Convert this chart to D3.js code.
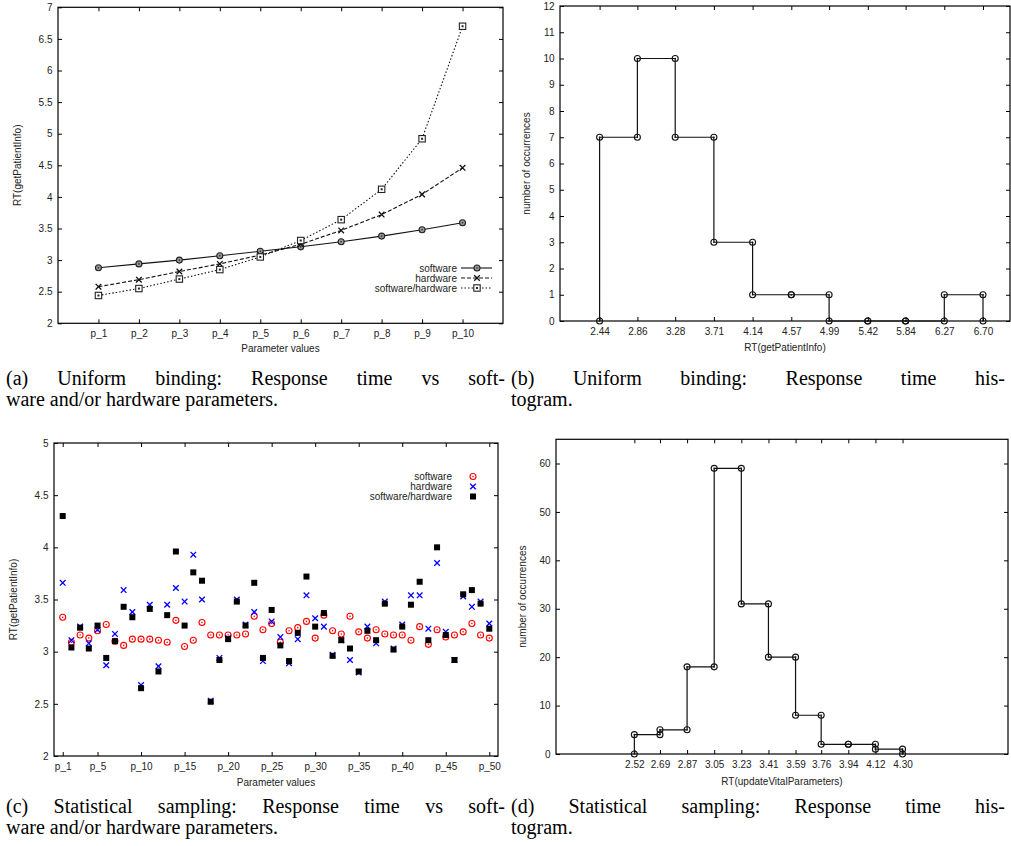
<!DOCTYPE html>
<html lang="en">
<head>
<meta charset="UTF-8" />
<title>Response time: uniform binding and statistical sampling</title>
<script src="https://cdn.jsdelivr.net/npm/d3@7"></script>
<style>
  body { margin: 0; background: #fff; }
  svg text { font-family: "Liberation Sans", Arial, sans-serif; font-size: 10px; fill: #222; }
  svg text.cap { font-family: "Liberation Serif", "Times New Roman", serif; font-size: 20px; fill: #000; }
</style>
</head>
<body>
<svg id="chart" width="1011" height="846"></svg>
<script>
// (a) uniform binding, RT per parameter value
const paramsA = ["p_1", "p_2", "p_3", "p_4", "p_5", "p_6", "p_7", "p_8", "p_9", "p_10"];
const softwareA = [2.88, 2.94, 3.00, 3.07, 3.14, 3.21, 3.29, 3.38, 3.48, 3.59];
const hardwareA = [2.58, 2.69, 2.82, 2.94, 3.08, 3.25, 3.47, 3.72, 4.04, 4.46];
const bothA = [2.44, 2.55, 2.70, 2.85, 3.05, 3.31, 3.64, 4.12, 4.92, 6.70];
const yTicksA = [2, 2.5, 3, 3.5, 4, 4.5, 5, 5.5, 6, 6.5, 7];

// (b) histogram of RT(getPatientInfo)
const binEdgesB = [2.44, 2.86, 3.28, 3.71, 4.14, 4.57, 4.99, 5.42, 5.84, 6.27, 6.70];
const countsB = [7, 10, 7, 3, 1, 1, 0, 0, 0, 1];
const yTicksB = [0, 1, 2, 3, 4, 5, 6, 7, 8, 9, 10, 11, 12];

// (c) statistical sampling, 50 parameter samples
const xLabelsC = ["p_1", "p_5", "p_10", "p_15", "p_20", "p_25", "p_30", "p_35", "p_40", "p_45", "p_50"];
const xTickIdxC = [1, 5, 10, 15, 20, 25, 30, 35, 40, 45, 50];
const softwareC = [3.33, 3.09, 3.16, 3.13, 3.20, 3.26, 3.10, 3.06, 3.12, 3.12,
  3.12, 3.11, 3.09, 3.30, 3.05, 3.11, 3.28, 3.16, 3.16, 3.16,
  3.16, 3.17, 3.34, 3.21, 3.27, 3.09, 3.20, 3.23, 3.29, 3.13,
  3.35, 3.20, 3.17, 3.34, 3.19, 3.13, 3.21, 3.17, 3.16, 3.16,
  3.11, 3.24, 3.07, 3.21, 3.14, 3.16, 3.19, 3.27, 3.16, 3.13];
const hardwareC = [3.66, 3.11, 3.24, 3.08, 3.21, 2.87, 3.17, 3.59, 3.38, 2.68,
  3.45, 2.86, 3.45, 3.61, 3.48, 3.93, 3.50, 2.53, 2.94, 3.13,
  3.50, 3.26, 3.38, 2.91, 3.29, 3.14, 2.89, 3.12, 3.54, 3.32,
  3.24, 2.97, 3.11, 2.92, 2.80, 3.24, 3.08, 3.48, 3.03, 3.26,
  3.54, 3.54, 3.22, 3.85, 3.19, 2.92, 3.53, 3.43, 3.48, 3.27];
const bothC = [4.30, 3.04, 3.23, 3.03, 3.25, 2.94, 3.10, 3.43, 3.33, 2.65,
  3.41, 2.81, 3.35, 3.96, 3.25, 3.76, 3.68, 2.52, 2.92, 3.12,
  3.48, 3.25, 3.66, 2.94, 3.40, 3.06, 2.91, 3.18, 3.72, 3.24,
  3.37, 2.96, 3.11, 3.03, 2.81, 3.20, 3.11, 3.46, 3.02, 3.24,
  3.45, 3.67, 3.11, 4.00, 3.16, 2.92, 3.55, 3.59, 3.46, 3.22];
const yTicksC = [2, 2.5, 3, 3.5, 4, 4.5, 5];

// (d) histogram of RT(updateVitalParameters)
const binEdgesD = [2.52, 2.69, 2.87, 3.05, 3.23, 3.41, 3.59, 3.76, 3.94, 4.12, 4.30];
const countsD = [4, 5, 18, 59, 31, 20, 8, 2, 2, 1];
const yTicksD = [0, 10, 20, 30, 40, 50, 60];

const svg = d3.select("#chart");

// frame with inward ticks on all four sides, like gnuplot
function drawFrame(g, x, y, xTicks, xFmt, yTicks, yFmt) {
  const [x0, x1] = x.range();
  const [yb, yt] = y.range();
  const ax = g.append("g");
  ax.append("g").attr("transform", `translate(0,${yb})`)
    .call(d3.axisBottom(x).tickValues(xTicks).tickFormat(xFmt).tickSize(-4).tickPadding(7));
  ax.append("g").attr("transform", `translate(0,${yt})`)
    .call(d3.axisTop(x).tickValues(xTicks).tickFormat("").tickSize(-4));
  ax.append("g").attr("transform", `translate(${x0},0)`)
    .call(d3.axisLeft(y).tickValues(yTicks).tickFormat(yFmt).tickSize(-4).tickPadding(5.5));
  ax.append("g").attr("transform", `translate(${x1},0)`)
    .call(d3.axisRight(y).tickValues(yTicks).tickFormat("").tickSize(-4));
  ax.selectAll(".domain").remove();
  ax.selectAll(".tick line").attr("stroke", "#000");
  g.append("rect")
    .attr("x", x0).attr("y", yt)
    .attr("width", x1 - x0).attr("height", yb - yt)
    .attr("fill", "none").attr("stroke", "#000").attr("stroke-width", 1.2);
}

function axisTitles(g, x, y, xTitle, yTitle, xBase, yBase) {
  const [x0, x1] = x.range();
  const [yb, yt] = y.range();
  g.append("text").attr("x", (x0 + x1) / 2).attr("y", xBase)
    .attr("text-anchor", "middle").text(xTitle);
  g.append("text")
    .attr("transform", `translate(${yBase},${(yb + yt) / 2}) rotate(-90)`)
    .attr("text-anchor", "middle").text(yTitle);
}

// gnuplot style point symbols
function circlePt(g, cx, cy, color, fill) {
  g.append("circle").attr("cx", cx).attr("cy", cy).attr("r", 3)
    .attr("fill", fill || "none").attr("stroke", color).attr("stroke-width", 1.1);
  g.append("circle").attr("cx", cx).attr("cy", cy).attr("r", 0.8).attr("fill", color);
}
function crossPt(g, cx, cy, color) {
  const s = 2.8;
  g.append("path")
    .attr("d", `M${cx - s},${cy - s}L${cx + s},${cy + s}M${cx - s},${cy + s}L${cx + s},${cy - s}`)
    .attr("stroke", color).attr("stroke-width", 1.3).attr("fill", "none");
}
function squarePt(g, cx, cy, color) {
  g.append("rect").attr("x", cx - 3.2).attr("y", cy - 3.2).attr("width", 6.4).attr("height", 6.4)
    .attr("fill", "#fff").attr("stroke", color).attr("stroke-width", 1.1);
  g.append("rect").attr("x", cx - 1).attr("y", cy - 1).attr("width", 2).attr("height", 2).attr("fill", color);
}
function filledSquarePt(g, cx, cy, color) {
  g.append("rect").attr("x", cx - 3).attr("y", cy - 3).attr("width", 6).attr("height", 6).attr("fill", color);
}

// step outline of a histogram, one point per edge before and after the jump
function stepPoints(edges, counts) {
  const pts = [];
  edges.forEach((e, i) => {
    const before = i > 0 ? counts[i - 1] : 0;
    const after = i < counts.length ? counts[i] : 0;
    pts.push([e, before]);
    pts.push([e, after]);
  });
  return pts;
}

function drawHistogram(g, x, y, edges, counts) {
  const pts = stepPoints(edges, counts);
  g.append("path")
    .attr("d", d3.line().x(d => x(d[0])).y(d => y(d[1]))(pts))
    .attr("fill", "none").attr("stroke", "#111").attr("stroke-width", 1.2);
  pts.forEach(d => circlePt(g, x(d[0]), y(d[1]), "#111"));
}

// ---------- (a) ----------
{
  const g = svg.append("g");
  const x = d3.scaleLinear().domain([0, 11]).range([58, 503]);
  const y = d3.scaleLinear().domain([2, 7]).range([323.3, 7.3]);
  const idx = paramsA.map((_, i) => i + 1);
  drawFrame(g, x, y, idx, i => paramsA[i - 1], yTicksA, d3.format("~g"));
  axisTitles(g, x, y, "Parameter values", "RT(getPatientInfo)", 352, 21);

  const series = [
    { name: "software", vals: softwareA, dash: null, pt: (cx, cy) => circlePt(g, cx, cy, "#222", "#999") },
    { name: "hardware", vals: hardwareA, dash: "4,2", pt: (cx, cy) => crossPt(g, cx, cy, "#111") },
    { name: "software/hardware", vals: bothA, dash: "1.5,2", pt: (cx, cy) => squarePt(g, cx, cy, "#222") }
  ];
  const line = d3.line().x((d, i) => x(i + 1)).y(d => y(d));
  series.forEach((s, k) => {
    g.append("path").attr("d", line(s.vals))
      .attr("fill", "none").attr("stroke", "#111").attr("stroke-width", 1.1)
      .attr("stroke-dasharray", s.dash);
    s.vals.forEach((v, i) => s.pt(x(i + 1), y(v)));
    // legend
    const ly = 268 + k * 10;
    g.append("text").attr("x", 457).attr("y", ly).attr("dy", "0.35em")
      .attr("text-anchor", "end").text(s.name);
    g.append("line").attr("x1", 461).attr("x2", 492).attr("y1", ly).attr("y2", ly)
      .attr("stroke", "#111").attr("stroke-width", 1.1).attr("stroke-dasharray", s.dash);
    s.pt(477, ly);
  });
}

// ---------- (b) ----------
{
  const g = svg.append("g");
  const x = d3.scaleLinear().domain([2, 7]).range([560, 1010]);
  const y = d3.scaleLinear().domain([0, 12]).range([321, 6]);
  drawFrame(g, x, y, binEdgesB, d3.format(".2f"), yTicksB, d3.format("d"));
  axisTitles(g, x, y, "RT(getPatientInfo)", "number of occurrences", 351, 529.5);
  drawHistogram(g, x, y, binEdgesB, countsB);
}

// ---------- (c) ----------
{
  const g = svg.append("g");
  const x = d3.scaleLinear().domain([0, 51]).range([54, 498]);
  const y = d3.scaleLinear().domain([2, 5]).range([756, 443]);
  drawFrame(g, x, y, xTickIdxC, (d, i) => xLabelsC[i], yTicksC, d3.format("~g"));
  axisTitles(g, x, y, "Parameter values", "RT(getPatientInfo)", 786, 17);

  softwareC.forEach((v, i) => circlePt(g, x(i + 1), y(v), "#f00"));
  hardwareC.forEach((v, i) => crossPt(g, x(i + 1), y(v), "#00f"));
  bothC.forEach((v, i) => filledSquarePt(g, x(i + 1), y(v), "#000"));

  const legend = [
    { name: "software", pt: (cx, cy) => circlePt(g, cx, cy, "#f00") },
    { name: "hardware", pt: (cx, cy) => crossPt(g, cx, cy, "#00f") },
    { name: "software/hardware", pt: (cx, cy) => filledSquarePt(g, cx, cy, "#000") }
  ];
  legend.forEach((s, k) => {
    const ly = 476.5 + k * 10;
    g.append("text").attr("x", 452).attr("y", ly).attr("dy", "0.35em")
      .attr("text-anchor", "end").text(s.name);
    s.pt(473, ly);
  });
}

// ---------- (d) ----------
{
  const g = svg.append("g");
  const x = d3.scaleLinear().domain([2, 5]).range([556, 1008]);
  const y = d3.scaleLinear().domain([0, 65]).range([754, 439.3]);
  drawFrame(g, x, y, binEdgesD, d3.format(".2f"), yTicksD, d3.format("d"));
  axisTitles(g, x, y, "RT(updateVitalParameters)", "number of occurrences", 785, 525.5);
  drawHistogram(g, x, y, binEdgesD, countsD);
}

// ---------- captions (justified lines stretch the word gaps only) ----------
const captions = [
  { x: 6, y: 385, w: 499, t: "(a) Uniform binding: Response time vs soft-" },
  { x: 6, y: 406, w: null, t: "ware and/or hardware parameters." },
  { x: 511, y: 385, w: 494, t: "(b) Uniform binding: Response time his-" },
  { x: 511, y: 406, w: null, t: "togram." },
  { x: 6, y: 813, w: 499, t: "(c) Statistical sampling: Response time vs soft-" },
  { x: 6, y: 834, w: null, t: "ware and/or hardware parameters." },
  { x: 511, y: 813, w: 494, t: "(d) Statistical sampling: Response time his-" },
  { x: 511, y: 834, w: null, t: "togram." }
];
captions.forEach(c => {
  const t = svg.append("text").attr("class", "cap").attr("x", c.x).attr("y", c.y).text(c.t);
  if (c.w) {
    const natural = t.node().getComputedTextLength();
    const gaps = c.t.split(" ").length - 1;
    t.attr("word-spacing", Math.max(0, (c.w - natural) / gaps));
  }
});
</script>
</body>
</html>
